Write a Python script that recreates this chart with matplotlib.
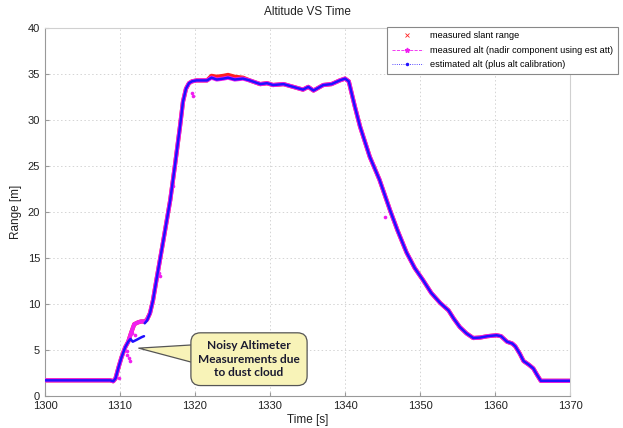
"""Altitude VS Time: slant range, measured alt and estimated alt during a hop."""

import numpy as np
import matplotlib
matplotlib.use("Agg")
import matplotlib.pyplot as plt
from matplotlib.lines import Line2D

plt.rcParams["font.family"] = ["Liberation Sans", "DejaVu Sans"]

# ---- data ------------------------------------------------------------------
# estimated alt (plus alt calibration), blue; NaN = sample gap at the dust cloud
t_est = [1300.0, 1308.7, 1309.1, 1309.4, 1309.8, 1310.2, 1310.7, 1311.1, 1311.4,
         1311.7, 1312.2, 1312.9, 1313.2, 1313.25, 1313.3, 1313.6, 1314.0, 1314.4,
         1314.9, 1315.8, 1316.7, 1317.3, 1318.0, 1318.4, 1318.8, 1319.2, 1319.6,
         1320.2, 1321.0, 1321.6, 1322.2, 1322.9, 1323.8, 1324.4, 1325.3, 1326.4,
         1327.3, 1328.7, 1329.6, 1330.4, 1331.8, 1333.1, 1334.4, 1335.1, 1335.8,
         1337.1, 1338.2, 1339.3, 1340.0, 1340.5, 1341.3, 1342.0, 1343.3, 1344.6,
         1346.0, 1347.0, 1348.2, 1349.3, 1350.4, 1351.5, 1352.7, 1353.8, 1354.5,
         1355.3, 1356.2, 1357.1, 1358.0, 1359.0, 1360.2, 1360.8, 1361.6, 1362.3,
         1362.7, 1363.3, 1363.8, 1364.5, 1365.1, 1365.6, 1366.1, 1370.0]
alt_est = [1.7, 1.7, 1.6, 1.9, 3.1, 4.2, 5.3, 5.9, 6.2,
           5.9, 6.1, 6.4, 6.5, np.nan, 7.9, 8.2, 9.0, 10.4,
           12.8, 17.0, 21.3, 24.9, 29.3, 32.0, 33.4, 34.0, 34.2,
           34.3, 34.3, 34.3, 34.6, 34.4, 34.5, 34.6, 34.4, 34.5,
           34.3, 33.9, 34.0, 33.8, 33.9, 33.6, 33.3, 33.6, 33.2,
           33.8, 33.9, 34.3, 34.5, 34.2, 31.5, 29.3, 26.0, 23.5,
           20.2, 18.0, 15.6, 13.9, 12.6, 11.2, 10.1, 9.3, 8.4,
           7.5, 6.8, 6.3, 6.35, 6.5, 6.6, 6.5, 5.9, 5.7,
           5.4, 4.6, 3.8, 3.4, 3.0, 2.3, 1.65, 1.65]

# measured alt (magenta) and measured slant range (red) share one time base
t_meas = [1300.0, 1308.7, 1309.1, 1309.4, 1309.8, 1310.2, 1310.7, 1311.1, 1311.5,
          1311.9, 1312.4, 1312.8, 1313.3, 1313.6, 1314.0, 1314.4,
          1314.9, 1315.8, 1316.7, 1317.3, 1318.0, 1318.4, 1318.8, 1319.2, 1319.6,
          1320.2, 1321.0, 1321.6, 1322.2, 1322.9, 1323.8, 1324.4, 1325.3, 1326.4,
          1327.3, 1328.7, 1329.6, 1330.4, 1331.8, 1333.1, 1334.4, 1335.1, 1335.8,
          1337.1, 1338.2, 1339.3, 1340.0, 1340.5, 1341.3, 1342.0, 1343.3, 1344.6,
          1346.0, 1347.0, 1348.2, 1349.3, 1350.4, 1351.5, 1352.7, 1353.8, 1354.5,
          1355.3, 1356.2, 1357.1, 1358.0, 1359.0, 1360.2, 1360.8, 1361.6, 1362.3,
          1362.7, 1363.3, 1363.8, 1364.5, 1365.1, 1365.6, 1366.1, 1370.0]
alt_meas = [1.7, 1.7, 1.6, 1.9, 3.1, 4.2, 5.3, 5.9, 6.9,
            7.8, 8.0, 8.1, 8.1, 8.3, 9.0, 10.4,
            12.8, 17.0, 21.3, 24.9, 29.3, 32.0, 33.4, 34.0, 34.2,
            34.3, 34.3, 34.3, 34.6, 34.4, 34.5, 34.6, 34.4, 34.5,
            34.3, 33.9, 34.0, 33.8, 33.9, 33.6, 33.3, 33.6, 33.2,
            33.8, 33.9, 34.3, 34.5, 34.2, 31.5, 29.3, 26.0, 23.5,
            20.2, 18.0, 15.6, 13.9, 12.6, 11.2, 10.1, 9.3, 8.4,
            7.5, 6.8, 6.3, 6.35, 6.5, 6.6, 6.5, 5.9, 5.7,
            5.4, 4.6, 3.8, 3.4, 3.0, 2.3, 1.65, 1.65]
slant = [1.7, 1.7, 1.6, 1.9, 3.1, 4.2, 5.3, 5.9, 6.9,
         7.8, 8.0, 8.1, 8.1, 8.3, 9.0, 10.4,
         12.8, 17.0, 21.3, 24.9, 29.3, 32.0, 33.4, 34.0, 34.2,
         34.3, 34.3, 34.3, 34.8, 34.7, 34.8, 34.9, 34.7, 34.6,
         34.3, 33.9, 34.0, 33.8, 33.9, 33.6, 33.3, 33.6, 33.2,
         33.8, 33.9, 34.3, 34.5, 34.2, 31.5, 29.3, 26.0, 23.5,
         20.2, 18.0, 15.6, 13.9, 12.6, 11.2, 10.1, 9.3, 8.4,
         7.5, 6.8, 6.3, 6.35, 6.5, 6.6, 6.5, 5.9, 5.7,
         5.4, 4.6, 3.8, 3.4, 3.0, 2.3, 1.65, 1.65]

# stray measured-alt samples (dust cloud and a few dropouts)
t_noise = [1309.9, 1310.9, 1311.0, 1311.2, 1311.3, 1311.5, 1311.6, 1312.0,
           1315.2, 1315.4, 1317.1, 1319.6, 1319.7, 1345.3]
alt_noise = [2.0, 4.9, 4.5, 4.1, 3.8, 7.0, 6.8, 6.6,
             13.4, 13.0, 22.8, 32.9, 32.6, 19.5]

labels = ["measured slant range",
          "measured alt (nadir component using est att)",
          "estimated alt (plus alt calibration)"]
callout = "Noisy Altimeter\nMeasurements due\nto dust cloud"

RED = "#ff2020"
MAG = "#f01ef0"
BLUE = "#2010ff"

fig = plt.figure(figsize=(6.23, 4.28), dpi=100)
ax = fig.add_axes([0.0722, 0.0748, 0.8428, 0.8598])

ax.plot(t_meas, slant, color=RED, lw=3.0, solid_capstyle="round", zorder=2)
ax.plot(t_meas, alt_meas, color=MAG, lw=3.0, solid_capstyle="round", zorder=3)
ax.plot(t_noise, alt_noise, ls="none", marker="o", ms=2.6, mec="none",
        color=MAG, zorder=3)
ax.plot(t_est, alt_est, color=BLUE, lw=1.8, solid_capstyle="round", zorder=4)

ax.set_xlim(1300, 1370)
ax.set_ylim(0, 40)
ax.set_xticks(np.arange(1300, 1371, 10))
ax.set_yticks(np.arange(0, 41, 5))
ax.grid(True, color="#d4d4d4", ls=(0, (1.5, 2.5)), lw=0.7)
ax.tick_params(direction="in", length=3, labelsize=8, colors="#999999",
               labelcolor="#222222")
for side in ["left", "bottom"]:
    ax.spines[side].set_color("#999999")
for side in ["top", "right"]:
    ax.spines[side].set_color("#d0d0d0")

ax.set_title("Altitude VS Time", fontsize=8.5, color="#222222", pad=9)
ax.set_xlabel("Time [s]", fontsize=8.5, color="#222222", labelpad=2)
ax.set_ylabel("Range [m]", fontsize=8.5, color="#222222", labelpad=4)

# legend, hanging past the right edge of the axes like the original
handles = [
    Line2D([], [], ls="none", marker="x", ms=2.5, mew=0.6, color=RED),
    Line2D([], [], ls="--", lw=0.6, marker="*", ms=3.5, color=MAG),
    Line2D([], [], ls=":", lw=0.6, marker=".", ms=3, color=BLUE),
]
leg = fig.legend(handles, labels, loc="upper right",
                 bbox_to_anchor=(0.999, 0.948), fontsize=6.6,
                 handlelength=3.4, labelspacing=0.6, borderpad=0.5,
                 fancybox=False, framealpha=1, edgecolor="#888888")
leg.get_frame().set_linewidth(0.8)

# callout box pointing at the dust-cloud samples
ax.annotate(callout, xy=(1312.5, 5.2), xytext=(1327.2, 4.0),
            ha="center", va="center", fontsize=8.6, fontweight="bold",
            family=["Lato", "DejaVu Sans"], color="#1a1a30", linespacing=1.3,
            bbox=dict(boxstyle="round,pad=0.6,rounding_size=0.8",
                      fc="#f8f3b8", ec="#555555", lw=0.9),
            arrowprops=dict(arrowstyle="wedge,tail_width=3.0,shrink_factor=0.5",
                            fc="#f8f3b8", ec="#555555", lw=0.9,
                            patchA=None, shrinkA=0, shrinkB=0),
            zorder=6)

plt.savefig("out.png", dpi=100)
